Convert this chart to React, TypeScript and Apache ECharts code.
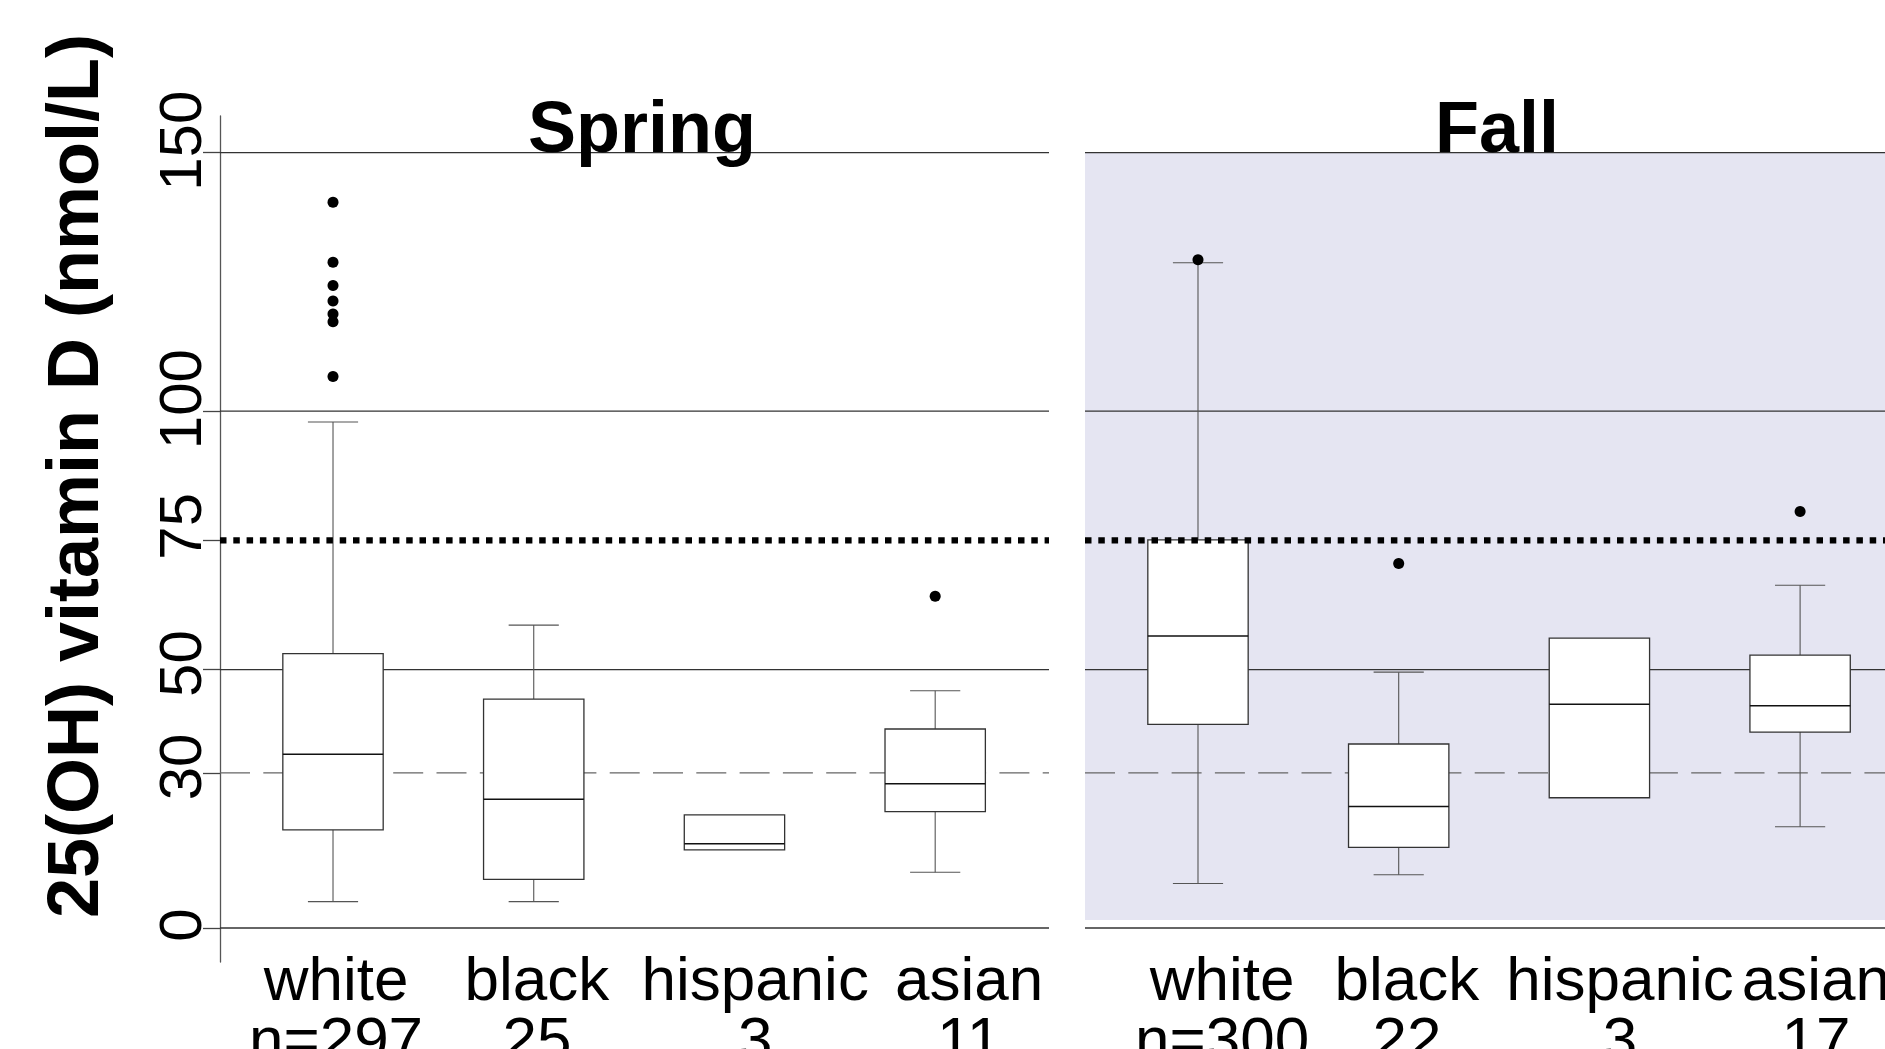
import React, { useEffect, useRef } from "react";
import * as echarts from "echarts";

// ---------- data ----------
const groups = ["white", "black", "hispanic", "asian"];
const springN = ["n=297", "25", "3", "11"];
const fallN = ["n=300", "22", "3", "17"];
// [min, Q1, median, Q3, max] for each group
const springBoxes = [
  [5.1, 19.0, 33.6, 53.1, 97.9],
  [5.1, 9.4, 24.9, 44.3, 58.6],
  [15.1, 15.1, 16.3, 21.9, 21.9],
  [10.8, 22.5, 27.9, 38.5, 45.9],
];
const fallBoxes = [
  [8.6, 39.4, 56.5, 75.1, 128.7],
  [10.3, 15.6, 23.5, 35.6, 49.5],
  [25.2, 25.2, 43.3, 56.1, 56.1],
  [19.6, 37.9, 43.0, 52.8, 66.3],
];
// [group position, value]
const springOutliers = [
  [1, 140.4], [1, 128.8], [1, 124.3], [1, 121.3], [1, 118.8], [1, 117.3], [1, 106.7], [4, 64.2],
];
const fallOutliers = [[1, 129.3], [2, 70.5], [4, 80.6]];
const yTicks = [0, 30, 50, 75, 100, 150];
const solidLines = [0, 50, 100, 150];
const dashedLine = 30;
const dottedLine = 75;
const fallShade = [1.55, 150];
const panelTitles = ["Spring", "Fall"];
const yTitle = "25(OH) vitamin D (nmol/L)";

// ---------- layout ----------
const FONT = "'Liberation Sans', Arial, Helvetica, sans-serif";
const Y_MIN = -6.578;
const Y_MAX = 157.1;
const X_RANGES = [
  [0.437, 4.567],
  [0.437, 4.423],
];
// where the group labels sit along each panel's x axis (as in the original figure)
const LABEL_POS = [
  [1.015, 2.016, 3.103, 4.169],
  [1.12, 2.041, 3.103, 4.079],
];
// small upward nudges (px) of the rotated y tick labels, as in the original
const Y_LABEL_NUDGE: Record<number, number> = { 0: 3, 30: 6, 50: 6, 75: 14, 100: 12, 150: 12 };

function boxRender(params: any, api: any) {
  const x = api.value(0);
  const mn = api.value(1);
  const q1 = api.value(2);
  const md = api.value(3);
  const q3 = api.value(4);
  const mx = api.value(5);
  const pMin = api.coord([x, mn]);
  const pQ1 = api.coord([x, q1]);
  const pMd = api.coord([x, md]);
  const pQ3 = api.coord([x, q3]);
  const pMax = api.coord([x, mx]);
  const bw = api.size([0.5, 0])[0];
  const cw = api.size([0.25, 0])[0];
  const cx = pMd[0];
  const wStyle = { stroke: "#555", lineWidth: 1.1 };
  const children: any[] = [];
  if (mx > q3) {
    children.push({ type: "line", shape: { x1: cx, y1: pQ3[1], x2: cx, y2: pMax[1] }, style: wStyle });
    children.push({ type: "line", shape: { x1: cx - cw / 2, y1: pMax[1], x2: cx + cw / 2, y2: pMax[1] }, style: wStyle });
  }
  if (mn < q1) {
    children.push({ type: "line", shape: { x1: cx, y1: pQ1[1], x2: cx, y2: pMin[1] }, style: wStyle });
    children.push({ type: "line", shape: { x1: cx - cw / 2, y1: pMin[1], x2: cx + cw / 2, y2: pMin[1] }, style: wStyle });
  }
  children.push({
    type: "rect",
    shape: { x: cx - bw / 2, y: pQ3[1], width: bw, height: pQ1[1] - pQ3[1] },
    style: { fill: "#fff", stroke: "#333", lineWidth: 1.3 },
  });
  children.push({
    type: "line",
    shape: { x1: cx - bw / 2, y1: pMd[1], x2: cx + bw / 2, y2: pMd[1] },
    style: { stroke: "#111", lineWidth: 1.5 },
  });
  return { type: "group", children };
}

function hLine(p: number, v: number, lineStyle: any, z: number, extra: any = {}) {
  return {
    type: "line",
    xAxisIndex: p,
    yAxisIndex: p,
    data: [
      [X_RANGES[p][0], v],
      [X_RANGES[p][1], v],
    ],
    symbol: "none",
    silent: true,
    lineStyle,
    z,
    ...extra,
  };
}

export default function App() {
  const ref = useRef<HTMLDivElement>(null);
  useEffect(() => {
    document.body.style.margin = "0";
    const chart = echarts.init(ref.current!, undefined, { renderer: "svg" });
    const boxesByPanel = [springBoxes, fallBoxes];
    const outByPanel = [springOutliers, fallOutliers];
    const nByPanel = [springN, fallN];
    const series: any[] = [];
    [0, 1].forEach((p) => {
      solidLines.forEach((v, i) => {
        const extra: any = {};
        if (p === 1 && i === 0) {
          extra.markArea = {
            silent: true,
            itemStyle: { color: "#E5E5F2" },
            data: [[{ coord: [X_RANGES[1][0], fallShade[0]] }, { coord: [X_RANGES[1][1], fallShade[1]] }]],
          };
        }
        series.push(hLine(p, v, { color: "#333", width: 1.3 }, 1, extra));
      });
      series.push(hLine(p, dashedLine, { color: "#666", width: 1.3, type: [30, 13.3] }, 1));
      series.push({
        type: "custom",
        xAxisIndex: p,
        yAxisIndex: p,
        renderItem: boxRender,
        data: boxesByPanel[p].map((b, i) => [i + 1, ...b]),
        z: 3,
        silent: true,
      });
      series.push(hLine(p, dottedLine, { color: "#000", width: 6.3, type: [6.5, 6.8] }, 4));
      series.push({
        type: "scatter",
        xAxisIndex: p,
        yAxisIndex: p,
        data: outByPanel[p],
        symbol: "circle",
        symbolSize: 11,
        itemStyle: { color: "#000", opacity: 1 },
        z: 5,
        silent: true,
      });
    });

    const xAxis = [0, 1].map((p) => ({
      type: "value",
      gridIndex: p,
      min: X_RANGES[p][0],
      max: X_RANGES[p][1],
      axisLine: { show: false },
      axisTick: { show: false },
      splitLine: { show: false },
      axisLabel: {
        customValues: LABEL_POS[p],
        formatter: (v: number) => {
          let i = 0;
          LABEL_POS[p].forEach((pos, k) => {
            if (Math.abs(pos - v) < Math.abs(LABEL_POS[p][i] - v)) i = k;
          });
          return groups[i] + "\n" + nByPanel[p][i];
        },
        fontSize: 62,
        lineHeight: 60,
        fontFamily: FONT,
        color: "#000",
        margin: -14,
      },
    }));

    const yRich: any = {};
    yTicks.forEach((t) => {
      yRich["t" + t] = {
        fontSize: 60,
        fontFamily: FONT,
        color: "#000",
        padding: [0, 0, 0, 2 * (Y_LABEL_NUDGE[t] || 0)],
      };
    });

    const yAxis = [
      {
        type: "value",
        gridIndex: 0,
        min: Y_MIN,
        max: Y_MAX,
        axisLine: { show: true, lineStyle: { color: "#555", width: 1.3 } },
        axisTick: {
          show: true,
          customValues: yTicks,
          length: 17,
          lineStyle: { color: "#444", width: 1.3 },
        },
        axisLabel: {
          customValues: yTicks,
          rotate: 90,
          fontSize: 60,
          fontFamily: FONT,
          color: "#000",
          margin: 10,
          formatter: (v: number) => `{t${v}|${v}}`,
          rich: yRich,
        },
        splitLine: { show: false },
      },
      {
        type: "value",
        gridIndex: 1,
        min: Y_MIN,
        max: Y_MAX,
        show: false,
        splitLine: { show: false },
      },
    ];

    chart.setOption({
      animation: false,
      backgroundColor: "#fff",
      grid: [
        { left: 220, top: 116, width: 829, height: 846, outerBoundsMode: "none", containLabel: false },
        { left: 1085, top: 116, width: 800, height: 846, outerBoundsMode: "none", containLabel: false },
      ],
      xAxis,
      yAxis,
      series,
      graphic: [
        {
          type: "text",
          x: 73,
          y: 476,
          rotation: Math.PI / 2,
          style: {
            text: yTitle,
            fontSize: 72,
            fontWeight: "bold",
            fontFamily: FONT,
            fill: "#000",
            align: "center",
            verticalAlign: "middle",
          },
        },
        {
          type: "text",
          x: 642,
          y: 127,
          style: {
            text: panelTitles[0],
            fontSize: 72,
            fontWeight: "bold",
            fontFamily: FONT,
            fill: "#000",
            align: "center",
            verticalAlign: "middle",
          },
          z: 10,
        },
        {
          type: "text",
          x: 1497,
          y: 127,
          style: {
            text: panelTitles[1],
            fontSize: 72,
            fontWeight: "bold",
            fontFamily: FONT,
            fill: "#000",
            align: "center",
            verticalAlign: "middle",
          },
          z: 10,
        },
      ],
    });
    return () => chart.dispose();
  }, []);
  return (
    <div
      ref={ref}
      style={{ position: "fixed", left: 0, top: 0, width: 1885, height: 1049, background: "#fff" }}
    />
  );
}
